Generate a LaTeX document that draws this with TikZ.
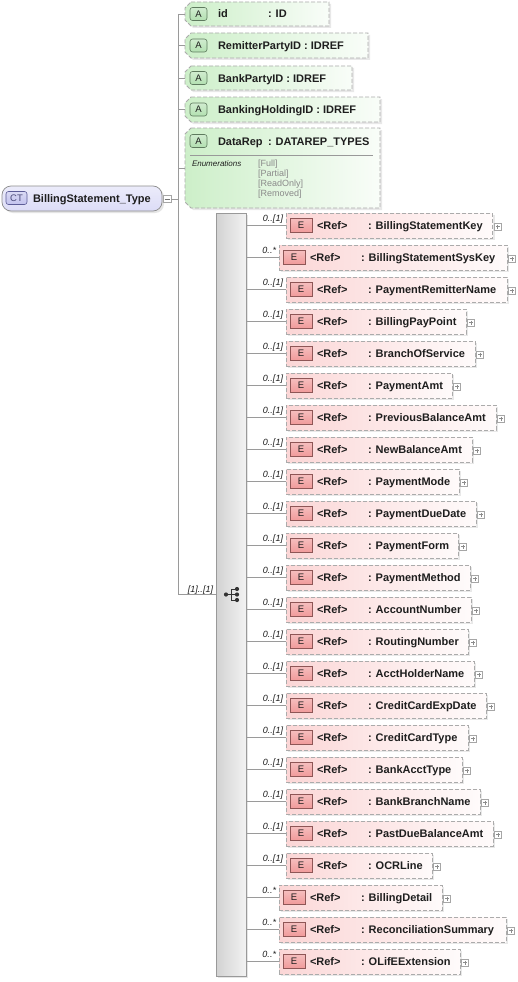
\documentclass[tikz,border=0pt]{standalone}
\usepackage{fontspec}
\setmainfont{Liberation Sans}
\usetikzlibrary{calc}
\definecolor{txt}{HTML}{1E1E1E}
\definecolor{lineg}{HTML}{9A9A9A}
\definecolor{dashg}{HTML}{ABABAB}
\definecolor{attrg}{HTML}{CDEFC9}
\definecolor{abadge}{HTML}{B2E0B0}
\definecolor{abadgeb}{HTML}{5E7A5E}
\definecolor{elp}{HTML}{FBD6D6}
\definecolor{ebadge}{HTML}{F09A9A}
\definecolor{ebadgeb}{HTML}{8E5656}
\definecolor{ctfill}{HTML}{DCDCF7}
\definecolor{ctbadge}{HTML}{C2C2EE}
\definecolor{ctbadgeb}{HTML}{5C5C96}
\definecolor{enumg}{HTML}{8A8A8A}
\definecolor{seqL}{HTML}{D2D2D2}
\definecolor{seqR}{HTML}{F2F2F2}

\newcommand\attrbox[6]{%
  \fill[shadowc] ({#2+8},{#3+2}) -- ({#4+2},{#3+2}) -- ({#4+2},{#5+2}) -- ({#2+8},{#5+2}) -- ({#2+2},{#5-4}) -- ({#2+2},{#3+8}) -- cycle;
  \shade[left color=attrg, right color=attrg!12] ({#2+6},#3) -- (#4,#3) -- (#4,#5) -- ({#2+6},#5) -- (#2,{#5-6}) -- (#2,{#3+6}) -- cycle;
  \draw[dashb] ({#2+6},#3) -- (#4,#3) -- (#4,#5) -- ({#2+6},#5) -- (#2,{#5-6}) -- (#2,{#3+6}) -- cycle;
  \node[minimum width={#4-#2}, minimum height={#5-#3}, anchor=north west] (#1) at (#2,#3) {};
  \node[abadgestyle, minimum width=17, minimum height=13] (#1badge) at (198.5,#6) {};
  \node[badgefont, anchor=base] at (198.5,{#6+3.3}) {A};
}

\begin{document}
\begin{tikzpicture}[x=1pt,y=-1pt,
  every node/.style={inner sep=0pt, outer sep=0pt, text=txt},
  conn/.style={draw=lineg, line width=0.8pt},
  shadowc/.style={fill=black!9},
  dashb/.style={draw=dashg, dash pattern=on 4pt off 2pt, line width=0.8pt},
  nmfont/.style={font=\fontsize{11}{13}\selectfont\bfseries},
  cardfont/.style={font=\fontsize{9}{10}\selectfont\itshape},
  enumfont/.style={font=\fontsize{9}{10}\selectfont},
  badgefont/.style={font=\fontsize{9.5}{11}\selectfont},
  abadgestyle/.style={draw=abadgeb, line width=0.6pt, top color=abadge!60, bottom color=abadge, rounded corners=2.5pt},
  ebadgestyle/.style={draw=ebadgeb, line width=0.6pt, top color=ebadge!65, bottom color=ebadge},
  plusbox/.style={draw=black!35, fill=white, line width=0.5pt, minimum width=7, minimum height=7}
]
\fill[white] (0,0) rectangle (517,982);
\useasboundingbox (0,0) rectangle (517,982);

% ---------- trunk coordinate
\coordinate (tr) at (178,0);

% ---------- CT node
\fill[black!10, rounded corners=9pt] (4,188) rectangle (164,213);
\node[draw=black!45, line width=0.7pt, rounded corners=9pt, top color=ctfill!55, bottom color=ctfill, minimum width=160, minimum height=25, anchor=north west] (ct) at (2,186) {};
\node[draw=ctbadgeb, line width=0.6pt, rounded corners=2.5pt, top color=ctbadge!60, bottom color=ctbadge, minimum width=21, minimum height=13] (ctb) at (16.5,198) {};
\node[badgefont, anchor=base, text=ctbadgeb!80!black] at (16.5,201.5) {CT};
\node[nmfont, anchor=base west] (ctname) at (33,202.5) {BillingStatement\_Type};
\node[plusbox, minimum width=8, minimum height=7] (ctm) at (167,199) {};
\draw[black!55, line width=0.6pt] (164.5,199) -- (169.5,199);
\draw[conn] (ctm.east) -- (tr |- ctm.east);

% ---------- attributes
\attrbox{aid}{185}{2}{329}{26}{14}
\node[nmfont, anchor=base west] at (218,18) {id};
\node[nmfont, anchor=base west] at (268,18) {: ID};

\attrbox{arem}{185}{33}{368}{58}{45.5}
\node[nmfont, anchor=base west] at (218,49.5) {RemitterPartyID : IDREF};

\attrbox{abank}{185}{66}{352}{90}{78}
\node[nmfont, anchor=base west] at (218,82) {BankPartyID : IDREF};

\attrbox{ahold}{185}{97}{380}{122}{109.5}
\node[nmfont, anchor=base west] at (218,113.5) {BankingHoldingID : IDREF};

\attrbox{adata}{185}{128}{380}{208}{141}
\node[nmfont, anchor=base west] at (218,145) {DataRep};
\node[nmfont, anchor=base west] at (268,145) {: DATAREP\_TYPES};
\draw[black!40, line width=0.7pt] (190,155) -- (373,155);
\node[font=\fontsize{8}{10}\selectfont\itshape, anchor=base west] at (192,166) {Enumerations};
\node[enumfont, text=enumg, anchor=base west] at (258,166) {[Full]};
\node[enumfont, text=enumg, anchor=base west] at (258,176) {[Partial]};
\node[enumfont, text=enumg, anchor=base west] at (258,186) {[ReadOnly]};
\node[enumfont, text=enumg, anchor=base west] at (258,196) {[Removed]};

% ---------- sequence compositor
\fill[black!10] (218,215) rectangle (248,978);
\node[draw=black!40, line width=0.7pt, left color=seqL, right color=seqR, minimum width=30, minimum height=763, anchor=north west] (seq) at (216,213) {};
\fill[black!80] (226,594.5) circle (2.1);
\fill[black!80] (237,589) circle (2.1);
\fill[black!80] (237,594.5) circle (2.1);
\fill[black!80] (237,600) circle (2.1);
\draw[black!80, line width=0.8pt] (226,594.5) -- (231,594.5) (231,589) -- (231,600) (231,589) -- (237,589) (231,600) -- (237,600) (231,594.5) -- (237,594.5);
\node[cardfont, anchor=base east] at (213,592) {[1]..[1]};

% ---------- trunk lines
\draw[conn] (tr |- aid.west) -- (tr |- seq.west);
\draw[conn] (tr |- aid.west) -- (aid.west);
\draw[conn] (tr |- arem.west) -- (arem.west);
\draw[conn] (tr |- abank.west) -- (abank.west);
\draw[conn] (tr |- ahold.west) -- (ahold.west);
\draw[conn] (tr |- adata.west) -- (adata.west);
\draw[conn] (tr |- seq.west) -- (seq.west);

% ---------- elements
\def\cardo{0..[1]}
\def\cardm{0..*}
\foreach \i/\nm/\lx/\rx/\card in {
 1/BillingStatementKey/286/492.7/\cardo,
 2/BillingStatementSysKey/279/507/\cardm,
 3/PaymentRemitterName/286/507/\cardo,
 4/BillingPayPoint/286/466/\cardo,
 5/BranchOfService/286/475/\cardo,
 6/PaymentAmt/286/452/\cardo,
 7/PreviousBalanceAmt/286/496/\cardo,
 8/NewBalanceAmt/286/472/\cardo,
 9/PaymentMode/286/459/\cardo,
 10/PaymentDueDate/286/476/\cardo,
 11/PaymentForm/286/458/\cardo,
 12/PaymentMethod/286/470/\cardo,
 13/AccountNumber/286/471/\cardo,
 14/RoutingNumber/286/468/\cardo,
 15/AcctHolderName/286/474/\cardo,
 16/CreditCardExpDate/286/486/\cardo,
 17/CreditCardType/286/468/\cardo,
 18/BankAcctType/286/462/\cardo,
 19/BankBranchName/286/480/\cardo,
 20/PastDueBalanceAmt/286/493/\cardo,
 21/OCRLine/286/432/\cardo,
 22/BillingDetail/279/442/\cardm,
 23/ReconciliationSummary/279/506/\cardm,
 24/OLifEExtension/279/460/\cardm}{
  \pgfmathsetmacro\rtop{213+32*(\i-1)}
  \pgfmathsetmacro\rcy{\rtop+12.5}
  \pgfmathsetmacro\bwid{\rx-\lx}
  \fill[black!9] ({\lx+2},{\rtop+2}) rectangle ({\rx+2},{\rtop+27});
  \node[dashb, left color=elp, right color=elp!10, minimum width=\bwid, minimum height=25, anchor=north west] (e\i) at (\lx,\rtop) {};
  \node[ebadgestyle, minimum width=22, minimum height=14] (eb\i) at ({\lx+15},\rcy) {};
  \node[badgefont, anchor=base] at ({\lx+15},{\rcy+3.4}) {E};
  \node[nmfont, anchor=base west] at ({\lx+31},{\rcy+4}) {<Ref>};
  \node[nmfont, anchor=base west] at ({\lx+82},{\rcy+4}) {: \nm};
  \node[plusbox] (ep\i) at ({\rx+5},{\rcy+1}) {};
  \draw[black!45, line width=0.5pt] ({\rx+3},{\rcy+1}) -- ({\rx+7},{\rcy+1}) ({\rx+5},{\rcy-1}) -- ({\rx+5},{\rcy+3});
  \node[cardfont, anchor=base east] at ({\lx-3},{\rcy-4.5}) {\card};
  \draw[conn] (seq.east |- e\i.west) -- (e\i.west);
}
\end{tikzpicture}
\end{document}
